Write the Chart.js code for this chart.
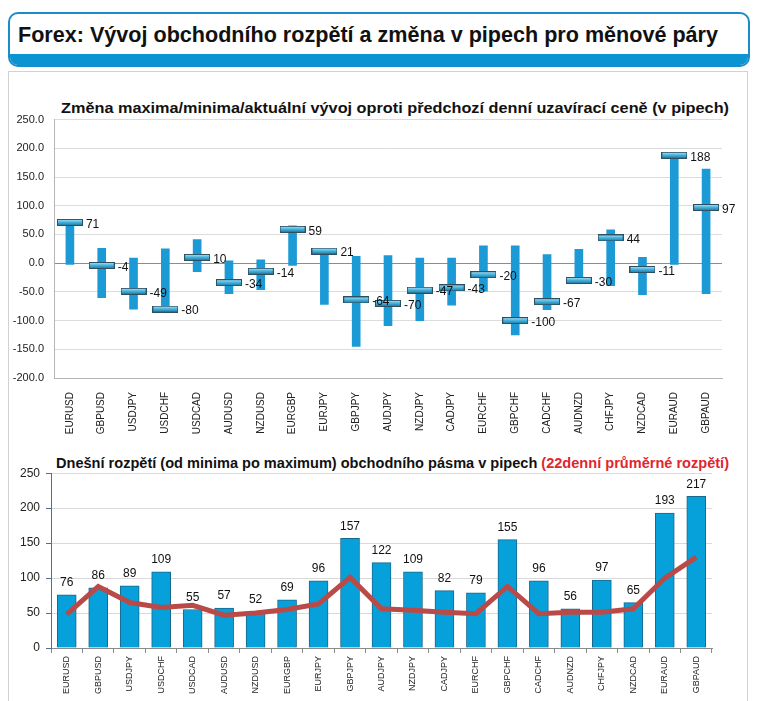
<!DOCTYPE HTML>
<html>

<head>
    <meta charset="UTF-8">
    <title>Forex: Vývoj obchodního rozpětí</title>
    <script src="https://cdn.jsdelivr.net/npm/chart.js"></script>
    <style>
        body { margin: 0; width: 759px; height: 701px; overflow: hidden; background: #fff; font-family: "Liberation Sans", Arial, sans-serif; position: relative; }
        .box { position: absolute; left: 8px; top: 12px; width: 738px; height: 51px; border: 2px solid #1b8cc6; border-radius: 10px; overflow: hidden; background: #fff; }
        .box .band { position: absolute; left: 0; right: 0; bottom: 0; height: 11px; background: #0a95d2; }
        .panel { position: absolute; left: 8px; top: 71px; width: 738px; height: 640px; border: 1px solid #d2d2d2; border-bottom: none; }
        .txt { position: absolute; white-space: nowrap; font-weight: bold; color: #111; transform-origin: 0 50%; }
        canvas { position: absolute; }
    </style>
</head>

<body>
    <div class="box"><div class="band"></div></div>
    <div class="panel"></div>
    <div class="txt" id="t0" style="left:18px; top:22px; font-size:22px; line-height:26px;">Forex: Vývoj obchodního rozpětí a změna v pipech pro měnové páry</div>
    <div class="txt" id="t1" style="left:61px; top:99px; font-size:15px; line-height:18px;">Změna maxima/minima/aktuální vývoj oproti předchozí denní uzavírací ceně (v pipech)</div>
    <div class="txt" id="t2" style="left:56px; top:454px; font-size:14.5px; line-height:18px;">Dnešní rozpětí (od minima po maximum) obchodního pásma v pipech <span style="color:#e0262e">(22denní průměrné rozpětí)</span></div>

    <canvas id="top" style="left:10px; top:103px; width:730px; height:337px;"></canvas>
    <canvas id="bottom" style="left:10px; top:460px; width:730px; height:241px;"></canvas>
    <script>
        const pairs = ['EURUSD', 'GBPUSD', 'USDJPY', 'USDCHF', 'USDCAD', 'AUDUSD', 'NZDUSD', 'EURGBP', 'EURJPY', 'GBPJPY', 'AUDJPY',
            'NZDJPY', 'CADJPY', 'EURCHF', 'GBPCHF', 'CADCHF', 'AUDNZD', 'CHFJPY', 'NZDCAD', 'EURAUD', 'GBPAUD'];
        // change vs previous daily close (pips)
        const highs = [71, 26, 9, 25, 41, 4, 6, 65, 24, 12, 13, 9, 9, 30, 30, 15, 24, 58, 10, 191, 164];
        const lows = [-2, -60, -80, -84, -15, -53, -46, -4, -72, -145, -109, -100, -73, -49, -125, -81, -32, -39, -55, -2, -53];
        const closes = [71, -4, -49, -80, 10, -34, -14, 59, 21, -64, -70, -47, -43, -20, -100, -67, -30, 44, -11, 188, 97];
        // today's range and 22-day average range (pips)
        const ranges = [76, 86, 89, 109, 55, 57, 52, 69, 96, 157, 122, 109, 82, 79, 155, 96, 56, 97, 65, 193, 217];
        const avg22 = [48, 88, 65, 58, 61, 47, 50, 55, 63, 101, 56, 54, 51, 49, 88, 49, 51, 51, 56, 100, 130];
        const topTicks = [-200, -150, -100, -50, 0, 50, 100, 150, 200, 250];

        // squeeze titles to the width they have in the picture
        function fit(id, w) {
            const el = document.getElementById(id);
            el.style.transform = 'scaleX(' + (w / el.getBoundingClientRect().width) + ')';
        }
        fit('t0', 700);
        fit('t1', 668);
        fit('t2', 673);

        Chart.defaults.font.family = '"Liberation Sans", Arial, sans-serif';
        Chart.defaults.color = '#222';
        Chart.defaults.animation = false;

        // close marker: small bevelled bar
        const mk = document.createElement('canvas');
        mk.width = 26; mk.height = 7;
        (function () {
            const c = mk.getContext('2d');
            const g = c.createLinearGradient(0, 0, 0, 7);
            g.addColorStop(0, '#c4ecfa');
            g.addColorStop(0.45, '#48b6e2');
            g.addColorStop(1, '#1a7299');
            c.fillStyle = g;
            c.fillRect(0.5, 0.5, 25, 6);
            c.strokeStyle = '#2f4f5e';
            c.lineWidth = 1;
            c.strokeRect(0.5, 0.5, 25, 6);
        })();

        const valueLabels = {
            id: 'valueLabels',
            afterDatasetsDraw(chart, args, opts) {
                const meta = chart.getDatasetMeta(opts.dataset);
                const data = chart.data.datasets[opts.dataset].data;
                const ctx = chart.ctx;
                ctx.save();
                ctx.font = opts.font;
                ctx.fillStyle = '#111';
                ctx.textAlign = opts.align;
                ctx.textBaseline = 'middle';
                meta.data.forEach((el, i) => {
                    ctx.fillText(data[i], el.x + opts.dx, el.y + opts.dy);
                });
                ctx.restore();
            }
        };

        new Chart(document.getElementById('top'), {
            data: {
                labels: pairs,
                datasets: [{
                    type: 'line',
                    label: 'Close',
                    data: closes,
                    showLine: false,
                    pointStyle: mk,
                    order: 0
                }, {
                    type: 'bar',
                    label: 'Range',
                    data: pairs.map((p, i) => [lows[i], highs[i]]),
                    backgroundColor: '#1c9ad6',
                    barThickness: 8,
                    grouped: false,
                    order: 1
                }]
            },
            options: {
                responsive: false,
                devicePixelRatio: 1,
                layout: { padding: { top: 3, right: 18, left: 0, bottom: 0 } },
                plugins: {
                    legend: { display: false },
                    tooltip: { enabled: false },
                    valueLabels: { dataset: 0, dx: 16, dy: 2, align: 'left', font: '12px "Liberation Sans", Arial, sans-serif' }
                },
                scales: {
                    x: {
                        offset: true,
                        grid: { display: false },
                        border: { color: '#b5b5b5' },
                        ticks: { minRotation: 90, maxRotation: 90, font: { size: 10 }, color: '#222', padding: 6 },
                        afterFit: s => { s.height = 62; }
                    },
                    y: {
                        min: -200, max: 250,
                        afterBuildTicks: s => { s.ticks = topTicks.map(v => ({ value: v })); },
                        grid: { color: c => c.tick && c.tick.value === 0 ? '#8c8c8c' : '#dcdcdc', drawTicks: false },
                        border: { color: '#b5b5b5' },
                        ticks: { callback: v => v.toFixed(1), font: { size: 11 }, color: '#222', padding: 10 },
                        afterFit: s => { s.width = 44; }
                    }
                }
            },
            plugins: [valueLabels]
        });

        new Chart(document.getElementById('bottom'), {
            data: {
                labels: pairs,
                datasets: [{
                    type: 'line',
                    label: '22denní průměrné rozpětí',
                    data: avg22,
                    borderColor: '#b94a47',
                    borderWidth: 5,
                    pointRadius: 0,
                    tension: 0,
                    order: 0
                }, {
                    type: 'bar',
                    label: 'Dnešní rozpětí',
                    data: ranges,
                    backgroundColor: '#06a0da',
                    borderColor: '#18688c',
                    borderWidth: 1,
                    barThickness: 19,
                    order: 1
                }]
            },
            options: {
                responsive: false,
                devicePixelRatio: 1,
                layout: { padding: { top: 7, right: 28, left: 0, bottom: 0 } },
                plugins: {
                    legend: { display: false },
                    tooltip: { enabled: false },
                    valueLabels: { dataset: 1, dx: 0, dy: -12, align: 'center', font: '12px "Liberation Sans", Arial, sans-serif' }
                },
                scales: {
                    x: {
                        offset: true,
                        grid: { offset: true, drawOnChartArea: false, tickLength: 5, tickColor: '#8a8a8a' },
                        border: { color: '#8a8a8a' },
                        ticks: { minRotation: 90, maxRotation: 90, font: { size: 9 }, color: '#222', padding: 3 },
                        afterFit: s => { s.height = 53; }
                    },
                    y: {
                        min: 0, max: 250,
                        ticks: { stepSize: 50, font: { size: 12 }, color: '#222', padding: 6 },
                        grid: { color: '#d9d9d9', tickLength: 5, tickColor: '#55708f' },
                        border: { color: '#55708f' },
                        afterFit: s => { s.width = 41; }
                    }
                }
            },
            plugins: [valueLabels]
        });
    </script>
</body>

</html>
